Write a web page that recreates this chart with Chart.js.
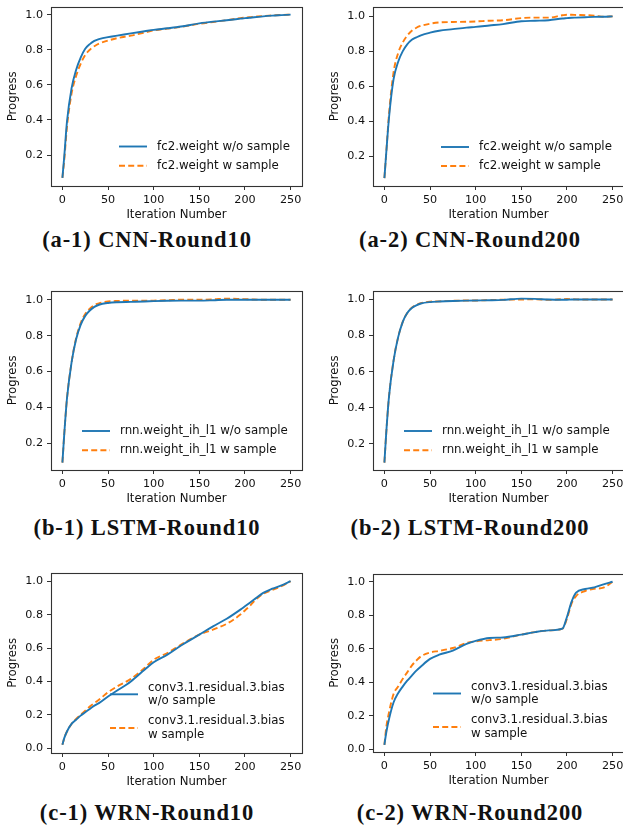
<!DOCTYPE html>
<html>
<head>
<meta charset="utf-8">
<script src="https://cdn.jsdelivr.net/npm/chart.js@4.4.0/dist/chart.umd.min.js"></script>
<style>
  html, body { margin: 0; padding: 0; background: #fff; }
  body { position: relative; width: 623px; height: 831px; overflow: hidden; }
  canvas { position: absolute; }
  .cap {
    position: absolute; white-space: nowrap;
    font-family: 'Liberation Serif', serif; font-weight: bold; font-size: 22.5px;
    letter-spacing: 0.9px; color: #111;
    transform: translate(-50%, -50%);
  }
</style>
</head>
<body>
<canvas id="a1"></canvas>
<canvas id="a2"></canvas>
<canvas id="b1"></canvas>
<canvas id="b2"></canvas>
<canvas id="c1"></canvas>
<canvas id="c2"></canvas>
<div class="cap" style="left:147px;top:240px">(a-1) CNN-Round10</div>
<div class="cap" style="left:470px;top:240px">(a-2) CNN-Round200</div>
<div class="cap" style="left:147px;top:528px">(b-1) LSTM-Round10</div>
<div class="cap" style="left:470px;top:528px">(b-2) LSTM-Round200</div>
<div class="cap" style="left:147px;top:813px">(c-1) WRN-Round10</div>
<div class="cap" style="left:470px;top:813px">(c-2) WRN-Round200</div>
<script>
var iterations = [0, 2, 5, 10, 15, 20, 25, 30, 35, 40, 50, 60, 75, 90, 100, 115, 130, 150, 165, 180, 195, 200, 205, 210, 220, 230, 240, 250];
var xTicks = [0, 50, 100, 150, 200, 250];
var yTicks = [0.2, 0.4, 0.6, 0.8, 1.0];
var yTicksWrn = [0.0, 0.2, 0.4, 0.6, 0.8, 1.0];

// CNN round 10
var cnn10Wo = [0.07, 0.19, 0.39, 0.58, 0.685, 0.755, 0.805, 0.832, 0.85, 0.86, 0.872, 0.88, 0.893, 0.905, 0.913, 0.922, 0.932, 0.95, 0.96, 0.968, 0.977, 0.98, 0.982, 0.985, 0.99, 0.994, 0.997, 1.0];
var cnn10W  = [0.07, 0.17, 0.36, 0.55, 0.65, 0.72, 0.77, 0.80, 0.82, 0.835, 0.852, 0.866, 0.88, 0.898, 0.91, 0.92, 0.93, 0.948, 0.958, 0.968, 0.98, 0.983, 0.986, 0.988, 0.992, 0.995, 0.998, 1.0];
// CNN round 200
var cnn200Wo = [0.077, 0.22, 0.42, 0.64, 0.74, 0.80, 0.84, 0.866, 0.88, 0.892, 0.907, 0.918, 0.927, 0.936, 0.94, 0.948, 0.956, 0.972, 0.975, 0.978, 0.988, 0.99, 0.992, 0.993, 0.995, 0.997, 0.998, 1.0];
var cnn200W  = [0.077, 0.22, 0.44, 0.68, 0.79, 0.85, 0.89, 0.918, 0.935, 0.946, 0.958, 0.965, 0.968, 0.969, 0.971, 0.975, 0.978, 0.99, 0.993, 0.993, 1.006, 1.009, 1.009, 1.008, 1.007, 1.004, 0.998, 1.0];
// LSTM round 10
var lstm10Wo = [0.093, 0.25, 0.45, 0.65, 0.78, 0.86, 0.91, 0.94, 0.96, 0.972, 0.982, 0.986, 0.988, 0.99, 0.992, 0.994, 0.995, 0.995, 0.997, 1.0, 1.0, 1.0, 1.0, 1.0, 1.0, 1.0, 1.0, 1.0];
var lstm10W  = [0.093, 0.25, 0.45, 0.65, 0.785, 0.87, 0.92, 0.95, 0.97, 0.98, 0.99, 0.993, 0.994, 0.994, 0.995, 0.997, 1.0, 1.0, 1.002, 1.006, 1.004, 1.003, 1.002, 1.001, 1.0, 1.0, 1.0, 1.0];
// LSTM round 200
var lstm200Wo = [0.095, 0.26, 0.46, 0.66, 0.79, 0.875, 0.925, 0.953, 0.968, 0.978, 0.986, 0.989, 0.992, 0.994, 0.995, 0.996, 0.998, 1.005, 1.004, 1.0, 0.999, 0.999, 1.0, 1.0, 1.0, 1.0, 1.0, 1.0];
var lstm200W  = [0.095, 0.26, 0.46, 0.66, 0.79, 0.875, 0.925, 0.955, 0.97, 0.98, 0.988, 0.99, 0.993, 0.995, 0.995, 0.997, 0.999, 1.0, 1.002, 0.998, 1.002, 1.003, 1.002, 1.001, 1.0, 1.0, 1.0, 1.0];
// WRN round 10
var wrn10Wo = [0.02, 0.06, 0.10, 0.145, 0.17, 0.195, 0.215, 0.235, 0.255, 0.27, 0.31, 0.345, 0.40, 0.47, 0.515, 0.56, 0.615, 0.68, 0.73, 0.775, 0.83, 0.85, 0.87, 0.89, 0.93, 0.955, 0.975, 1.0];
var wrn10W  = [0.02, 0.06, 0.10, 0.145, 0.175, 0.20, 0.225, 0.25, 0.27, 0.29, 0.335, 0.37, 0.415, 0.48, 0.53, 0.57, 0.62, 0.68, 0.71, 0.745, 0.80, 0.825, 0.85, 0.88, 0.925, 0.948, 0.97, 1.0];
// WRN round 200
var wrn200Wo = [0.028, 0.10, 0.18, 0.28, 0.335, 0.375, 0.41, 0.44, 0.47, 0.495, 0.54, 0.565, 0.59, 0.63, 0.648, 0.665, 0.668, 0.685, 0.70, 0.71, 0.72, 0.79, 0.88, 0.935, 0.957, 0.967, 0.985, 1.0];
var wrn200W  = [0.028, 0.13, 0.22, 0.33, 0.375, 0.42, 0.46, 0.50, 0.53, 0.555, 0.578, 0.588, 0.605, 0.635, 0.645, 0.652, 0.66, 0.685, 0.70, 0.71, 0.72, 0.78, 0.87, 0.915, 0.945, 0.958, 0.965, 1.0];

var cnnLegend = [['fc2.weight w/o sample'], ['fc2.weight w sample']];
var lstmLegend = [['rnn.weight_ih_l1 w/o sample'], ['rnn.weight_ih_l1 w sample']];
var wrnLegend = [['conv3.1.residual.3.bias', 'w/o sample'], ['conv3.1.residual.3.bias', 'w sample']];

var BLUE = '#1f77b4', ORANGE = '#ff7f0e';
var FONT = "'DejaVu Sans', sans-serif";
var Y_W = 50, X_H = 36, PAD_T = 3, PAD_R = 4;

// frame around the plot + legend drawn inside the axes, like matplotlib
var framePlugin = {
  id: 'frameLegend',
  afterDraw: function (chart, args, opts) {
    var ctx = chart.ctx, a = chart.chartArea;
    ctx.save();
    ctx.strokeStyle = '#333';
    ctx.lineWidth = 1.1;
    ctx.strokeRect(Math.round(a.left) + 0.5, Math.round(a.top) + 0.5,
      Math.round(a.right) - Math.round(a.left), Math.round(a.bottom) - Math.round(a.top));

    ctx.font = '11.8px ' + FONT;
    ctx.textBaseline = 'middle';
    ctx.fillStyle = '#111';
    var textX = a.right - opts.textFromRight;
    chart.data.datasets.forEach(function (ds, i) {
      var cy = a.bottom - opts.rows[i];
      ctx.strokeStyle = ds.borderColor;
      ctx.lineWidth = ds.borderWidth;
      ctx.setLineDash(ds.borderDash || []);
      ctx.beginPath();
      ctx.moveTo(textX - 38, cy);
      ctx.lineTo(textX - 10, cy);
      ctx.stroke();
      ctx.setLineDash([]);
      var lines = ds.legendLines;
      var lh = 13.5;
      lines.forEach(function (t, k) {
        ctx.fillText(t, textX, cy + (k - (lines.length - 1) / 2) * lh);
      });
    });
    ctx.restore();
  }
};

function makeChart(p) {
  var canvas = document.getElementById(p.id);
  var w = p.right - p.left, h = p.bottom - p.top;
  canvas.width = w + Y_W + PAD_R;
  canvas.height = h + PAD_T + X_H;
  canvas.style.left = (p.left - Y_W) + 'px';
  canvas.style.top = (p.top - PAD_T) + 'px';

  function series(vals) {
    return vals.map(function (v, i) { return { x: iterations[i], y: v }; });
  }
  var tickFont = { family: FONT, size: 11.2 };
  var titleFont = { family: FONT, size: 11.7 };

  new Chart(canvas, {
    type: 'line',
    data: {
      datasets: [{
        label: p.legend[0].join(' '),
        legendLines: p.legend[0],
        data: series(p.wo),
        borderColor: BLUE,
        borderWidth: 1.9,
        pointRadius: 0,
        cubicInterpolationMode: 'monotone'
      }, {
        label: p.legend[1].join(' '),
        legendLines: p.legend[1],
        data: series(p.w),
        borderColor: ORANGE,
        borderWidth: 1.9,
        borderDash: [6, 3.2],
        pointRadius: 0,
        cubicInterpolationMode: 'monotone'
      }]
    },
    options: {
      responsive: false,
      animation: false,
      events: [],
      layout: { padding: { top: PAD_T, right: PAD_R, left: 0, bottom: 0 } },
      plugins: {
        legend: { display: false },
        tooltip: { enabled: false },
        frameLegend: { textFromRight: p.textFromRight, rows: p.rows }
      },
      scales: {
        x: {
          type: 'linear',
          min: -12.5, max: 262.5,
          afterBuildTicks: function (s) { s.ticks = xTicks.map(function (v) { return { value: v }; }); },
          afterFit: function (s) { s.height = X_H; },
          border: { display: false },
          grid: { drawOnChartArea: false, drawTicks: true, tickLength: 4, color: '#333', lineWidth: 1 },
          ticks: { font: tickFont, color: '#111', padding: 3, maxRotation: 0, autoSkip: false,
                   callback: function (v) { return String(v); } },
          title: { display: true, text: 'Iteration Number', font: titleFont, color: '#111',
                   padding: { top: 0, bottom: 0 } }
        },
        y: {
          type: 'linear',
          min: p.yMin, max: p.yMax,
          afterBuildTicks: function (s) { s.ticks = p.yTicks.map(function (v) { return { value: v }; }); },
          afterFit: function (s) { s.width = Y_W; },
          border: { display: false },
          grid: { drawOnChartArea: false, drawTicks: true, tickLength: 4, color: '#333', lineWidth: 1 },
          ticks: { font: tickFont, color: '#111', padding: 4, autoSkip: false,
                   callback: function (v) { return v.toFixed(1); } },
          title: { display: true, text: 'Progress', font: titleFont, color: '#111',
                   padding: { top: 5, bottom: 0 } }
        }
      }
    },
    plugins: [framePlugin]
  });
}

var panels = [
  { id: 'a1', left: 51, top: -1, right: 302, bottom: 186, yMin: 0.0235, yMax: 1.045, yTicks: yTicks,
    wo: cnn10Wo, w: cnn10W, legend: cnnLegend, textFromRight: 145, rows: [39.5, 20.3] },
  { id: 'a2', left: 373, top: -1, right: 624, bottom: 186, yMin: 0.032, yMax: 1.055, yTicks: yTicks,
    wo: cnn200Wo, w: cnn200W, legend: cnnLegend, textFromRight: 145, rows: [39, 20] },
  { id: 'b1', left: 51, top: 283, right: 302, bottom: 470, yMin: 0.052, yMax: 1.05, yTicks: yTicks,
    wo: lstm10Wo, w: lstm10W, legend: lstmLegend, textFromRight: 182, rows: [39, 19.7] },
  { id: 'b2', left: 373, top: 283, right: 624, bottom: 470, yMin: 0.054, yMax: 1.049, yTicks: yTicks,
    wo: lstm200Wo, w: lstm200W, legend: lstmLegend, textFromRight: 182, rows: [39, 19.7] },
  { id: 'c1', left: 51, top: 565, right: 302, bottom: 753, yMin: -0.029, yMax: 1.051, yTicks: yTicksWrn,
    wo: wrn10Wo, w: wrn10W, legend: wrnLegend, textFromRight: 154, rows: [58.7, 25] },
  { id: 'c2', left: 373, top: 566, right: 624, bottom: 752, yMin: -0.015, yMax: 1.048, yTicks: yTicksWrn,
    wo: wrn200Wo, w: wrn200W, legend: wrnLegend, textFromRight: 153, rows: [58.5, 25] }
];

panels.forEach(makeChart);
</script>
</body>
</html>
